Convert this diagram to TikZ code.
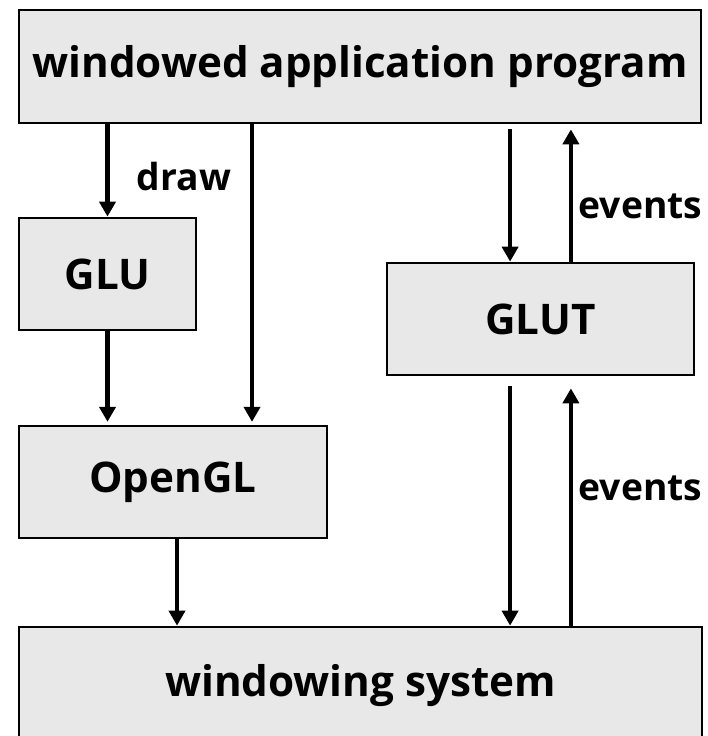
\documentclass[tikz,border=0pt]{standalone}
\usepackage{fontspec}
\setmainfont{Open Sans}
\usepackage{xcolor}
\usetikzlibrary{arrows.meta}

\definecolor{boxgray}{RGB}{232,232,232}
\tikzset{
  block/.style={draw,line width=1.9pt,fill=boxgray,minimum height=2.8cm,inner sep=0pt,
    font=\bfseries\fontsize{30}{36}\selectfont},
  flow/.style={->,line width=3pt},
  tag/.style={inner sep=4pt,font=\bfseries\fontsize{26.5}{32}\selectfont}
}

\begin{document}
\begin{tikzpicture}[x=0.025cm,y=-0.025cm,>={Triangle[length=0.375cm,width=0.4cm]}]
          \clip (0,0) rectangle (708,736);
          \node [block,minimum width=17.05cm,minimum height=2.825cm] (app) at (360,66.5) {windowed application program};
          \node [block,minimum width=4.425cm] (glu) at (107.5,274) {GLU};
          \node [block,minimum width=7.7cm] (ogl) at (173,482) {OpenGL};
          \node [block,minimum width=7.675cm] (glut) at (540.5,319) {GLUT};
          \node [block,minimum width=17.075cm,minimum height=2.95cm] (win) at (360.5,686) {windowing system};
          % drawing side
          \coordinate (ogl-in) at ([xshift=1.975cm]ogl.north);
          \coordinate (ogl-out) at ([xshift=0.1cm]ogl.south);
          \draw [flow] (app.south -| glu.north) -- (glu.north);
          \draw [flow,shorten >=2pt] (glu.south) -- (ogl.north -| glu.south);
          \draw [flow,shorten >=2pt] (app.south -| ogl-in) -- (ogl-in);
          \draw [flow] (ogl-out) -- (win.north -| ogl-out);
          \node [tag] (drawlbl) at (184,177) {draw};
          % event side
          \coordinate (glut-in) at ([xshift=-0.76cm]glut.north);
          \coordinate (glut-out) at ([xshift=0.76cm]glut.north);
          \coordinate (glut-down) at ([xshift=-0.76cm]glut.south);
          \coordinate (glut-up) at ([xshift=0.76cm]glut.south);
          \draw [flow,shorten <=0.125cm] (app.south -| glut-in) -- (glut-in);
          \draw [flow,shorten >=0.125cm] (glut-out) -- (app.south -| glut-out)
            node [tag,right,pos=0.4] (ev1) {events};
          \draw [flow,shorten <=0.25cm] (glut-down) -- (win.north -| glut-down);
          \draw [flow,shorten >=0.3cm] (win.north -| glut-up) -- (glut-up)
            node [tag,right,pos=0.55] (ev2) {events};
\end{tikzpicture}
\end{document}
